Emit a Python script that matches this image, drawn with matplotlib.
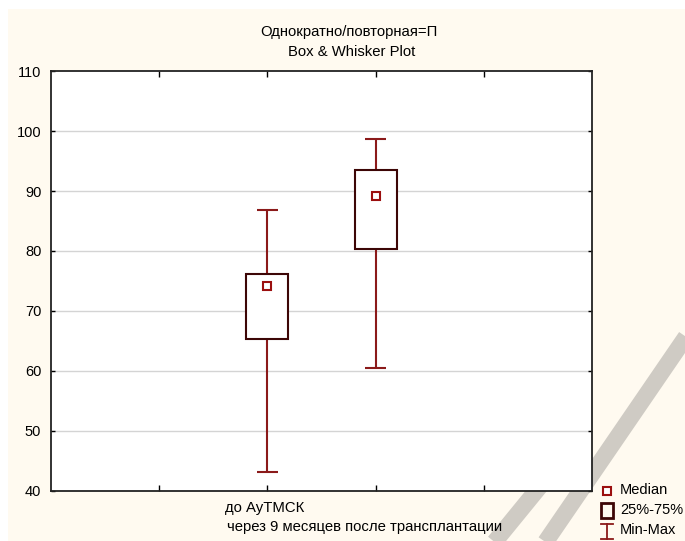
import matplotlib
matplotlib.use('Agg')
import matplotlib.pyplot as plt
from matplotlib.lines import Line2D
from matplotlib.patches import Rectangle

# data
GROUPS = ['до АуТМСК', 'через 9 месяцев после трансплантации']
POSITIONS = [2, 3]
MINS = [43.1, 60.5]
Q1 = [65.4, 80.3]
MEDIANS = [74.2, 89.2]
Q3 = [76.2, 93.5]
MAXS = [86.9, 98.6]

W, H = 685, 541
CREAM = '#fffaf0'
BOX_EDGE = '#3d0606'
WHISK = '#8b1a1a'
MED = '#9b0f0f'

plt.rcParams['font.family'] = ['Liberation Sans', 'DejaVu Sans']

fig = plt.figure(figsize=(W / 100, H / 100), dpi=100, facecolor='white')


def px(x, y):
    return x / W, 1 - y / H


# cream background with a thin white strip on the top and left
fig.add_artist(Rectangle((8 / W, 0), 1 - 8 / W, 1 - 9 / H, transform=fig.transFigure,
                         facecolor=CREAM, edgecolor='none', zorder=-10))

# faint watermark strokes
for pts in ([(488, 550), (568, 452), (594, 478)],
            [(540, 550), (692, 328)]):
    xs, ys = zip(*[px(a, b) for a, b in pts])
    fig.add_artist(Line2D(xs, ys, transform=fig.transFigure, color='#cfcbc4',
                          lw=12, solid_capstyle='butt', solid_joinstyle='miter', zorder=-5))

ax = fig.add_axes([51 / W, 50 / H, 541 / W, 420 / H])
ax.set_facecolor('white')
ax.set_zorder(1)

ax.set_xlim(0, 5)
ax.set_ylim(40, 110)
ax.set_yticks(range(40, 111, 10))
ax.set_xticks([1, 2, 3, 4])
ax.set_xticklabels([''] * 4)
for y in range(50, 101, 10):
    ax.axhline(y, color='#d4d4d4', lw=1, zorder=0)

ax.tick_params(axis='y', direction='in', length=3, width=1, labelsize=10.5, right=True, pad=7)
ax.tick_params(axis='x', direction='in', length=4, width=1, top=True)
for s in ax.spines.values():
    s.set_linewidth(1.3)
    s.set_color('#222222')

box_w = 0.39
cap_w = 0.19
for p, lo, a, m, b, hi in zip(POSITIONS, MINS, Q1, MEDIANS, Q3, MAXS):
    ax.vlines(p, lo, a, color=WHISK, lw=1.5, zorder=2)
    ax.vlines(p, b, hi, color=WHISK, lw=1.5, zorder=2)
    ax.hlines([lo, hi], p - cap_w / 2, p + cap_w / 2, color=WHISK, lw=1.5, zorder=2)
    ax.add_patch(Rectangle((p - box_w / 2, a), box_w, b - a, facecolor='white',
                           edgecolor=BOX_EDGE, lw=1.5, zorder=3))
    ax.plot([p], [m], marker='s', ms=6, mfc='white', mec=MED, mew=1.5, zorder=4)

# staggered category labels (second one sits a little left of its tick)
LABEL_X = [265, 365]
LABEL_Y = [508, 527]
for lab, lx, ly in zip(GROUPS, LABEL_X, LABEL_Y):
    fig.text(*px(lx, ly), lab, ha='center', va='center', fontsize=10.7)

# title block
fig.text(*px(349, 32), 'Однократно/повторная=П', ha='center', va='center', fontsize=10.7)
fig.text(*px(352, 52), 'Box & Whisker Plot', ha='center', va='center', fontsize=10.7)

# legend drawn by hand
tr = fig.transFigure
x0, y0 = px(607, 491)
fig.add_artist(Line2D([x0], [y0], marker='s', ms=6, mfc='white', mec=MED, mew=1.5,
                      transform=tr, zorder=5))
fig.text(*px(620, 490), 'Median', fontsize=10.5, va='center', ha='left')
bx, by = px(601, 518)
fig.add_artist(Rectangle((bx, by), 12 / W, 15 / H, transform=tr, facecolor=CREAM,
                         edgecolor=BOX_EDGE, lw=2, zorder=5))
fig.text(*px(620, 510), '25%-75%', fontsize=10.5, va='center', ha='left')
xa, ya = px(607, 524)
xb, yb = px(607, 539)
fig.add_artist(Line2D([xa, xa], [ya, yb], color=WHISK, lw=1.3, transform=tr, zorder=5))
for yy in (ya, yb):
    fig.add_artist(Line2D([px(601, 0)[0], px(613, 0)[0]], [yy, yy], color=WHISK,
                          lw=1.3, transform=tr, zorder=5))
fig.text(*px(620, 530), 'Min-Max', fontsize=10.5, va='center', ha='left')

fig.savefig('out.png', dpi=100, facecolor=fig.get_facecolor())
